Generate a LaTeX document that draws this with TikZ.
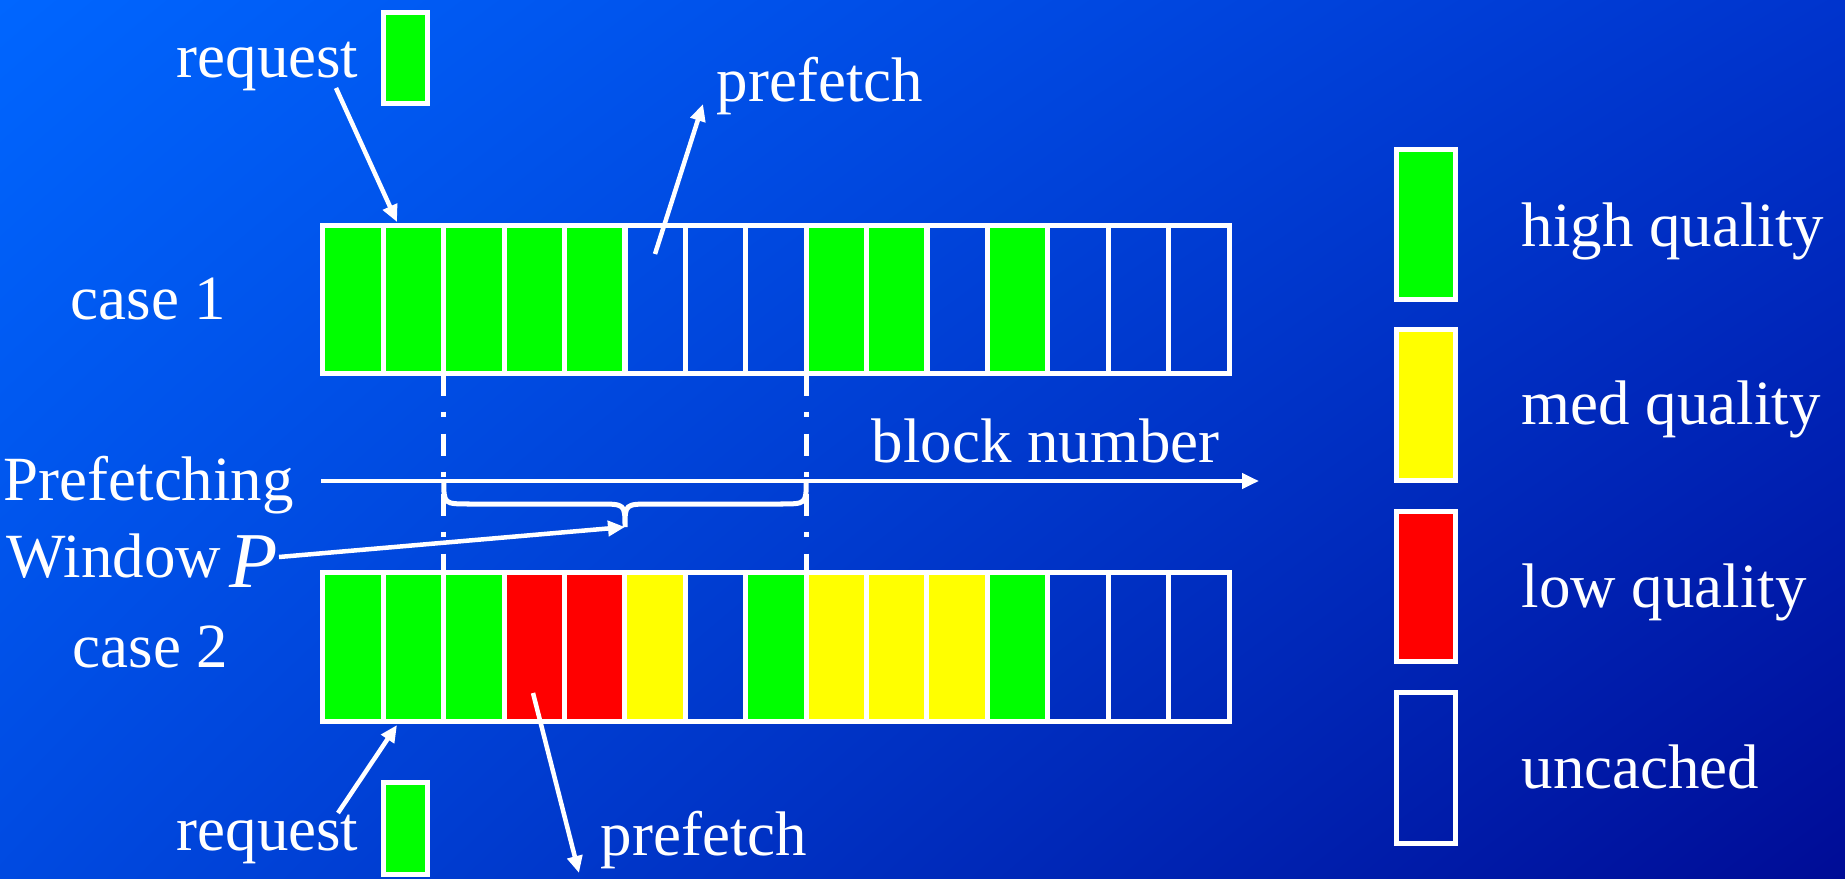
\documentclass[tikz,border=0pt]{standalone}
\usepackage{fontspec}
\setmainfont{LiberationSerif}[Extension=.ttf,UprightFont=*-Regular,ItalicFont=*-Italic,BoldFont=*-Bold,BoldItalicFont=*-BoldItalic]
\usetikzlibrary{arrows.meta,shadings}
\definecolor{bgUL}{RGB}{0,102,255}
\definecolor{bgUR}{RGB}{0,52,205}
\definecolor{bgLL}{RGB}{0,74,225}
\definecolor{bgLR}{RGB}{0,12,150}
\definecolor{qgreen}{RGB}{0,255,0}
\definecolor{qyellow}{RGB}{255,255,0}
\definecolor{qred}{RGB}{255,0,0}
\begin{document}
\begin{tikzpicture}[x=0.01cm,y=-0.01cm,
  wl/.style={white,line width=0.045cm},
  arr/.style={wl,-{Triangle[length=0.17cm,width=0.15cm]}},
  cell/.style={draw=white,line width=0.05cm,minimum width=0.604cm,minimum height=1.48cm,inner sep=0,outer sep=0},
  cG/.style={fill=qgreen},
  cY/.style={fill=qyellow},
  cR/.style={fill=qred},
  cU/.style={},
  lbl/.style={text=white,font=\fontsize{17.9pt}{20pt}\selectfont,anchor=base west,inner sep=0},
  legbox/.style={draw=white,line width=0.05cm,minimum width=0.59cm,minimum height=1.5cm,inner sep=0,outer sep=0},
  reqbox/.style={draw=white,fill=qgreen,line width=0.05cm,minimum width=0.44cm,minimum height=0.91cm,inner sep=0,outer sep=0}
]
\useasboundingbox (0,0) rectangle (1845,879);
\shade[upper left=bgUL,upper right=bgUR,lower left=bgLL,lower right=bgLR] (0,0) rectangle (1845,879);

% case 1 and case 2 bars
\foreach \c [count=\i] in {cG,cG,cG,cG,cG,cU,cU,cU,cG,cG,cU,cG,cU,cU,cU}
  \node[cell,\c] (a\i) at ({323+60.4*(\i-0.5)},299.5) {};
\foreach \c [count=\i] in {cG,cG,cG,cR,cR,cY,cU,cG,cY,cY,cY,cG,cU,cU,cU}
  \node[cell,\c] (b\i) at ({323+60.4*(\i-0.5)},647) {};

% dashed window lines
\draw[white,line width=0.05cm,dash pattern=on 0.22cm off 0.16cm on 0.05cm off 0.17cm] (a2.south east) -- (b2.north east);
\draw[white,line width=0.05cm,dash pattern=on 0.22cm off 0.16cm on 0.05cm off 0.17cm] (a8.south east) -- (b8.north east);

% block number axis
\coordinate (axL) at (321,481);
\coordinate (axR) at (1259,481);
\draw[arr] (axL) -- (axR);
\node[lbl] (bn) at (871,462) {block number};

% brace
\coordinate (brL) at (443.8,481);
\coordinate (brR) at (806.2,481);
\coordinate (brTip) at (625,527);
\draw[white,line width=0.05cm] (brL) .. controls (443.8,504) .. (470,504) -- (598,504) .. controls (625,504) .. (brTip) .. controls (625,504) .. (652,504) -- (780,504) .. controls (806.2,504) .. (brR);

% labels
\node[lbl] (case1) at (70,320) {case 1};
\node[lbl] (case2) at (72,667) {case 2};
\node[lbl] (pf1) at (3,500) {Prefetching};
\node[lbl] (win) at (6,577) {Window};
\node[text=white,font=\fontsize{22.5pt}{24pt}\selectfont\itshape,anchor=base west,inner sep=0] (P) at (229,587) {P};
\coordinate (wP) at (279,557);
\draw[arr] (wP) -- (brTip);

% top request / prefetch
\node[lbl] (req1) at (176,78) {request};
\node[reqbox] (rb1) at (405.5,58) {};
\coordinate (req1s) at (336,88);
\coordinate (req1e) at (397,222);
\draw[arr] (req1s) -- (req1e);
\node[lbl] (pre1) at (716,102) {prefetch};
\coordinate (pre1s) at (655,254);
\coordinate (pre1e) at (703,104);
\draw[arr] (pre1s) -- (pre1e);

% bottom request / prefetch
\node[lbl] (req2) at (176,850) {request};
\node[reqbox] (rb2) at (405.5,828.5) {};
\coordinate (req2s) at (338,813);
\coordinate (req2e) at (397,725);
\draw[arr] (req2s) -- (req2e);
\node[lbl] (pre2) at (600,855) {prefetch};
\coordinate (pre2s) at (533,693);
\coordinate (pre2e) at (579,873);
\draw[arr] (pre2s) -- (pre2e);

% legend
\node[legbox,cG] (l1) at (1426,224.5) {};
\node[legbox,cY] (l2) at (1426,405) {};
\node[legbox,cR] (l3) at (1426,586.5) {};
\node[legbox,cU] (l4) at (1426,768) {};
\node[lbl] (t1) at (1521,247) {high quality};
\node[lbl] (t2) at (1521,424) {med quality};
\node[lbl] (t3) at (1521,607) {low quality};
\node[lbl] (t4) at (1521,788) {uncached};
\end{tikzpicture}
\end{document}
